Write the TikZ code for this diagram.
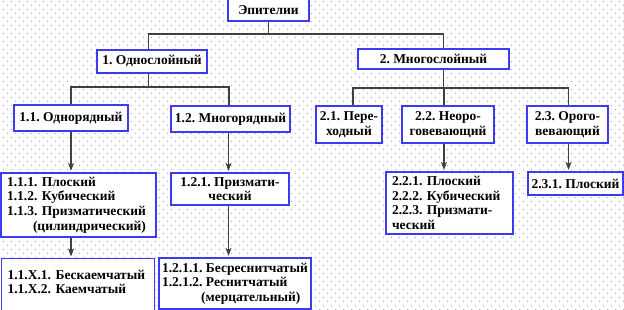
\documentclass[tikz,border=0pt]{standalone}
\usepackage{fontspec}
\setmainfont{Liberation Serif}
\frenchspacing
\usetikzlibrary{arrows.meta, calc}
\definecolor{boxstroke}{HTML}{3B3BF2}
\definecolor{linkgray}{HTML}{404040}
\definecolor{dotgray}{HTML}{A8A8A8}

\begin{document}
\begin{tikzpicture}[
    x=1pt, y=-1pt,
    every node/.style={font=\bfseries\fontsize{13.5}{14.7}\selectfont},
    box/.style={draw=boxstroke, line width=1.2pt, fill=white, align=center, inner sep=0pt},
    lbox/.style={box, align=left, inner xsep=6pt},
    link/.style={draw=linkgray, line width=1.3pt},
    arr/.style={link, -{Stealth[length=8pt, width=6pt, inset=2pt]}, shorten >=1.5pt},
    dotrow/.style={draw=dotgray, line width=1pt, dash pattern=on 1pt off 7pt}
]
\useasboundingbox (0,0) rectangle (624,310);
\clip (0,0) rectangle (624,310);
% dotted paper, staggered rows
\foreach \y in {1.5,9.5,...,310} {
  \draw[dotrow] (3,\y) -- (624,\y);
  \draw[dotrow] (7,\y+4) -- (624,\y+4);
}

\node[box, minimum width=81, minimum height=22] (epi) at (268.5, 10) {Эпителии};
\node[box, minimum width=110, minimum height=23] (one) at (152, 61.5) {1. Однослойный};
\node[box, minimum width=151, minimum height=20] (two) at (433.5, 59) {2. Многослойный};

\coordinate (busA) at (0, 34);
\coordinate (busB) at (0, 87);
\coordinate (busC) at (0, 88);

\draw[link] (epi.south) -- (epi.south |- busA) -| ([xshift=-3.5pt]one.north);
\draw[link] (epi.south |- busA) -| ([xshift=10pt]two.north);

% 1. branch
\node[box, minimum width=114, minimum height=26] (b11) at (71, 118) {1.1. Однорядный};
\node[box, minimum width=119, minimum height=26] (b12) at (230.5, 119) {1.2. Многорядный};

\draw[link] ([xshift=-3.5pt]one.south) -- ([xshift=-3.5pt]one.south |- busB) -| (b11.north);
\draw[link] ([xshift=-3.5pt]one.south |- busB) -| ([xshift=-1.5pt]b12.north);

\node[lbox, text width=143, minimum height=64] (b111) at (78.5, 205)
  {1.1.1. Плоский\\1.1.2. Кубический\\1.1.3. Призматический\\\hspace*{26pt}(цилиндрический)};
\node[lbox, text width=141, minimum height=62, text depth=30pt, anchor=north west] (b11x) at (1, 258)
  {1.1.X.1. Бескаемчатый\\1.1.X.2. Каемчатый};
\node[box, minimum width=118, minimum height=32] (b121) at (230, 189) {1.2.1. Призмати-\\ческий};
\node[box, align=left, minimum width=152, minimum height=51] (b1211) at (235, 283.5)
  {1.2.1.1. Бесреснитчатый\\1.2.1.2. Реснитчатый\\\hspace*{39pt}(мерцательный)};

\draw[arr] (b11.south) -- (b11.south |- b111.north);
\draw[arr] (b11.south |- b111.south) -- (b11.south |- b11x.north);
\draw[arr] ([xshift=-2pt]b12.south) -- ([xshift=-2pt]b12.south |- b121.north);
\draw[arr] ([xshift=-2pt]b12.south |- b121.south) -- ([xshift=-2pt]b12.south |- b1211.north);

% 2. branch
\node[box, minimum width=66, minimum height=37] (b21) at (349, 124.5) {2.1. Пере-\\ходный};
\node[box, minimum width=92, minimum height=37] (b22) at (448, 124.5) {2.2. Неоро-\\говевающий};
\node[box, minimum width=81, minimum height=37] (b23) at (567.5, 124.5) {2.3. Орого-\\вевающий};

\draw[link] ([xshift=10pt]two.south) -- ([xshift=10pt]two.south |- busC) -| ([xshift=4pt]b21.north);
\draw[link] ([xshift=10pt]two.south |- busC) -| ([xshift=-4pt]b22.north);
\draw[link] ([xshift=10pt]two.south |- busC) -| ([xshift=1pt]b23.north);

\node[lbox, text width=115, minimum height=62] (b221) at (449.5, 203)
  {2.2.1. Плоский\\2.2.2. Кубический\\2.2.3. Призмати-\\ческий};
\node[box, minimum width=95, minimum height=23] (b231) at (575.5, 183.5) {2.3.1. Плоский};

\draw[arr] ([xshift=-4pt]b22.south) -- ([xshift=-4pt]b22.south |- b221.north);
\draw[arr] ([xshift=1pt]b23.south) -- ([xshift=1pt]b23.south |- b231.north);

\end{tikzpicture}
\end{document}
